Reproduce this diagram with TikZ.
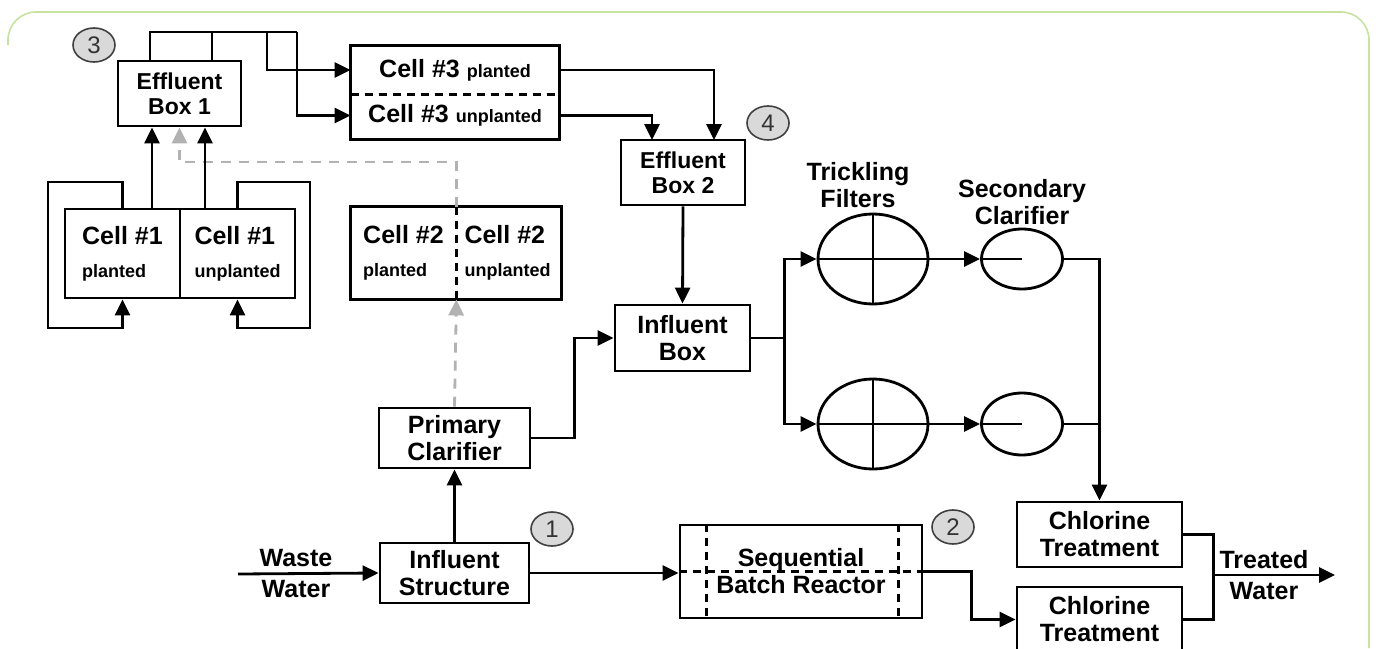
\documentclass[tikz,border=0pt]{standalone}
\usepackage{fontspec}
\setmainfont{Liberation Sans}
\usetikzlibrary{arrows.meta,shapes.geometric}
\definecolor{framegreen}{RGB}{200,226,160}
\newcommand\smalltxt{\fontsize{9}{10}\selectfont}
\begin{document}
\begin{tikzpicture}[x=.5pt,y=-.5pt,line width=1.4pt,
	box/.style={draw,inner sep=1pt,align=center,font=\fontsize{12.5}{13.5}\selectfont\bfseries},
	effbox/.style={box,minimum width=62pt,minimum height=32.5pt,font=\fontsize{11.5}{12.5}\selectfont\bfseries},
	cellbox/.style={box,align=left,minimum height=44.5pt},
	tank/.style={draw,ellipse,minimum width=55pt,minimum height=45pt,inner sep=0pt},
	clar/.style={draw,ellipse,minimum width=40.5pt,minimum height=30pt,inner sep=0pt},
	num/.style={draw=black!75,fill=black!15,ellipse,line width=.8pt,minimum width=21pt,minimum height=17pt,inner sep=0pt,text=black!80,font=\fontsize{12}{12}\selectfont},
	lbl/.style={align=center,font=\fontsize{12.5}{13.5}\selectfont\bfseries},
	arr/.style={-{Triangle[length=8pt,width=7.5pt]}},
	garr/.style={arr,draw=black!30,dash pattern=on 5pt off 4pt},
	dsh/.style={dash pattern=on 4pt off 3pt}]
	\useasboundingbox(0,0)rectangle(1376,648);
	\draw[draw=framegreen,line width=.8pt,rounded corners=14pt](8,45)|-(1369,12)--(1369,648);
	\node[effbox,minimum width=61.5pt](eb1)at(179.5,93.5){Effluent\\Box 1};
	\node[num](n3)at(94,45){3};
	\node[box,draw=none,minimum width=103pt,minimum height=23pt,inner sep=0pt](c3p)at(455,70){Cell \#3 {\smalltxt planted}};
	\node[box,draw=none,minimum width=103pt,minimum height=22.5pt,inner sep=0pt](c3u)at(455,115.5){Cell \#3 {\smalltxt unplanted}};
	\draw(c3p.north west)rectangle(c3u.south east);
	\draw[dsh](c3p.south west)--(c3p.south east);
	\node[effbox](eb2)at(683,172.5){Effluent\\Box 2};
	\node[num](n4)at(768,123){4};
	\node[cellbox,minimum width=57.5pt](c1p)at(122.5,253.5){Cell \#1\\[3pt]{\smalltxt planted}};
	\node[cellbox,minimum width=57.5pt](c1u)at(237.5,253.5){Cell \#1\\[3pt]{\smalltxt unplanted}};
	\node[cellbox,draw=none,minimum width=51.5pt,minimum height=45pt](c2p)at(403.5,253){Cell \#2\\[3pt]{\smalltxt planted}};
	\node[cellbox,draw=none,minimum width=52.5pt,minimum height=45pt](c2u)at(507.5,253){Cell \#2\\[3pt]{\smalltxt unplanted}};
	\draw(c2p.north west)rectangle(c2u.south east);
	\draw[dsh](c2p.north east)--(c2p.south east);
	\node[box,minimum width=67.5pt,minimum height=33pt](ib)at(682.5,338){Influent\\Box};
	\node[box,minimum width=75.5pt,minimum height=30pt](pc)at(454.5,438){Primary\\Clarifier};
	\node[box,minimum width=74.5pt,minimum height=30pt](is)at(454.5,573){Influent\\Structure};
	\node[num](n1)at(552,529){1};
	\node[box,minimum width=121pt,minimum height=46.5pt](sbr)at(801,571.5){Sequential\\Batch Reactor};
	\node[num](n2)at(953,527){2};
	\node[box,minimum width=82.5pt,minimum height=32.5pt](ct1)at(1099.5,534.5){Chlorine\\Treatment};
	\node[box,minimum width=82.5pt,minimum height=32.5pt](ct2)at(1099.5,619.5){Chlorine\\Treatment};
	\node[tank](tf1)at(873,259){};
	\node[tank](tf2)at(873,424){};
	\node[clar](sc1)at(1022,259){};
	\node[clar,minimum height=31pt](sc2)at(1022,424){};
	\node[lbl](tfl)at(858,185){Trickling\\Filters};
	\node[lbl](scl)at(1022,202){Secondary\\Clarifier};
	\node[lbl](ww)at(296,574){Waste\\[2pt]Water};
	\node[lbl](tw)at(1264,575){Treated\\[2pt]Water};
	\coordinate(win)at(238,574);
	\coordinate(tout)at(1335,575);
	\coordinate(p1)at(152,209);
	\coordinate(p2)at(205,209);
	\coordinate(q1)at(150,61);
	\coordinate(q2)at(212,61);
	\coordinate(t1)at(267,32);
	\coordinate(t2)at(297,32);
	\coordinate(r1)at(714,140);
	\coordinate(r2)at(652,140);
	\coordinate(g1)at(179.5,162);
	\draw[dsh]([xshift=14pt]sbr.north west)--([xshift=14pt]sbr.south west);
	\draw[dsh]([xshift=-12.5pt]sbr.north east)--([xshift=-12.5pt]sbr.south east);
	\draw[dsh](sbr.west)--(sbr.east);
	\draw(tf1.west)--(tf1.east)(tf1.north)--(tf1.south);
	\draw(tf2.west)--(tf2.east)(tf2.north)--(tf2.south);
	\draw(sc1.west)--(sc1.center);
	\draw(sc2.west)--(sc2.center);
	\draw[arr](win)--(is.west);
	\draw[arr](is.north)--(pc.south);
	\draw[arr](is.east)--(is.east-|sbr.west);
	\draw[garr](pc.north)--(c2p.south east);
	\draw[garr](c2p.north east)|-(g1)--(eb1.south);
	\draw[arr](pc.east)--++(43,0)|-(ib.west);
	\draw[arr](eb2.south)--(ib.north);
	\draw(ib.east)--++(33,0)coordinate(sp);
	\draw[arr](sp)|-(tf1.west);
	\draw[arr](sp)|-(tf2.west);
	\draw[arr](tf1.east)--(sc1.west);
	\draw[arr](tf2.east)--(sc2.west);
	\draw[arr](sc1.east)-|(ct1.north);
	\draw(sc2.east)--(sc2.east-|ct1.north);
	\draw[arr](sbr.east)--++(48,0)|-(ct2.west);
	\draw(ct1.east)--++(30,0)coordinate(jn)|-(ct2.east);
	\draw[arr](jn|-tout)--(tout);
	\draw[arr](p1)--(p1|-eb1.south);
	\draw[arr](p2)--(p2|-eb1.south);
	\draw[arr](c1p.north)|-(48,182)|-(122.5,328)--(c1p.south);
	\draw[arr](c1u.north)|-(310,182)|-(237.5,328)--(c1u.south);
	\draw(q1)|-(t2);
	\draw(q2)--(q2|-t2);
	\draw[arr](t1)|-(c3p.west);
	\draw[arr](t2)|-(c3u.west);
	\draw[arr](c3p.east)-|(r1);
	\draw[arr](c3u.east)-|(r2);
\end{tikzpicture}
\end{document}
